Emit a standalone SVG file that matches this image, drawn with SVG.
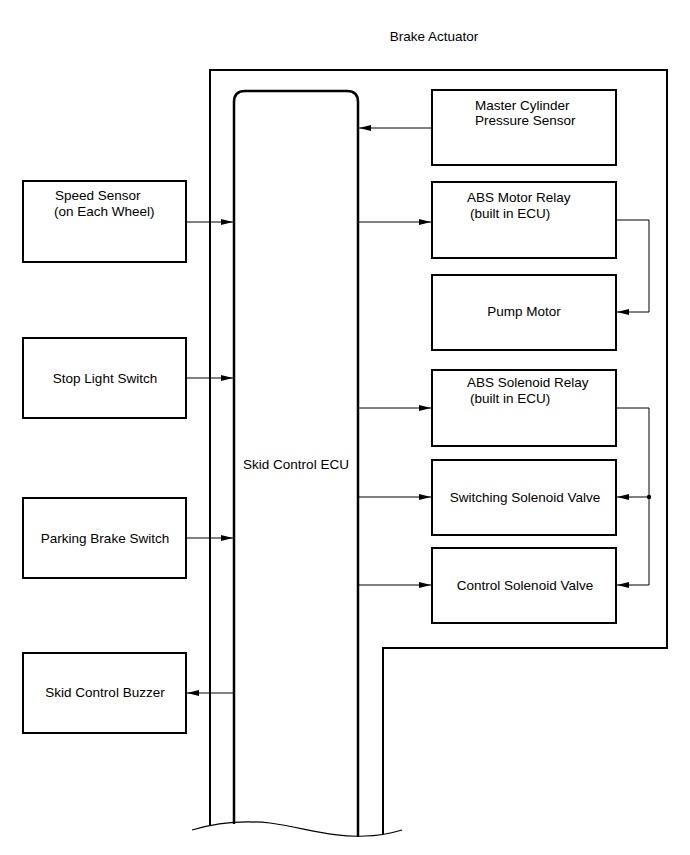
<svg xmlns="http://www.w3.org/2000/svg" width="690" height="855" viewBox="0 0 690 855">
<style>
.box{fill:#fff;stroke:#000;stroke-width:2}
.ln{fill:none;stroke:#000;stroke-width:1}
.t{font-family:"Liberation Sans",Arial,sans-serif;font-size:13.5px;fill:#000}
.c{text-anchor:middle}
</style>
<defs>
<marker id="ah" viewBox="0 0 12 6" refX="12" refY="3" markerWidth="12" markerHeight="6" markerUnits="userSpaceOnUse" orient="auto">
<path d="M0,0 L12,3 L0,6 Z" fill="#000"/>
</marker>
</defs>
<rect width="690" height="855" fill="#fff"/>
<g id="actuator">
<path d="M210,825 V70 H667 V648 H383 V834" fill="none" stroke="#000" stroke-width="2"/>
<text class="t c" x="434" y="41">Brake Actuator</text>
</g>
<g id="ecu">
<path d="M234,824 V102 Q234,91 245,91 H347 Q358,91 358,102 V837" fill="#fff" stroke="#000" stroke-width="2.5"/>
<text class="t c" x="296" y="469">Skid Control ECU</text>
</g>
<g id="wave">
<path d="M192,830 C215,823 240,820 270,823 C305,828 335,838 365,836 C380,836 392,833 402,830" fill="none" stroke="#000" stroke-width="1.2"/>
</g>
<g id="master-cylinder">
<rect class="box" x="432" y="90" width="184" height="75"/>
<text class="t" x="475" y="110">Master Cylinder</text>
<text class="t" x="475" y="125">Pressure Sensor</text>
</g>
<g id="abs-motor-relay">
<rect class="box" x="432" y="182" width="184" height="76"/>
<text class="t" x="467" y="202">ABS Motor Relay</text>
<text class="t" x="470" y="218">(built in ECU)</text>
</g>
<g id="pump-motor">
<rect class="box" x="432" y="275" width="184" height="75"/>
<text class="t c" x="524" y="316">Pump Motor</text>
</g>
<g id="abs-solenoid-relay">
<rect class="box" x="432" y="370" width="184" height="76"/>
<text class="t" x="467" y="387">ABS Solenoid Relay</text>
<text class="t" x="470" y="403">(built in ECU)</text>
</g>
<g id="switching-valve">
<rect class="box" x="432" y="460" width="184" height="75"/>
<text class="t c" x="525" y="502">Switching Solenoid Valve</text>
</g>
<g id="control-valve">
<rect class="box" x="432" y="548" width="184" height="75"/>
<text class="t c" x="525" y="590">Control Solenoid Valve</text>
</g>
<g id="speed-sensor">
<rect class="box" x="23" y="181" width="163" height="81"/>
<text class="t" x="55" y="200">Speed Sensor</text>
<text class="t" x="54" y="216">(on Each Wheel)</text>
</g>
<g id="stop-light">
<rect class="box" x="23" y="338" width="163" height="80"/>
<text class="t c" x="105" y="383">Stop Light Switch</text>
</g>
<g id="parking-brake">
<rect class="box" x="23" y="498" width="163" height="80"/>
<text class="t c" x="105" y="543">Parking Brake Switch</text>
</g>
<g id="buzzer">
<rect class="box" x="23" y="653" width="163" height="80"/>
<text class="t c" x="105" y="697">Skid Control Buzzer</text>
</g>
<g id="connectors">
<line class="ln" x1="432" y1="128" x2="359" y2="128" marker-end="url(#ah)"/>
<line class="ln" x1="358" y1="222" x2="431" y2="222" marker-end="url(#ah)"/>
<polyline class="ln" points="617,220 649,220 649,312 617,312" marker-end="url(#ah)"/>
<line class="ln" x1="358" y1="408" x2="431" y2="408" marker-end="url(#ah)"/>
<polyline class="ln" points="617,408 649,408 649,585 617,585" marker-end="url(#ah)"/>
<line class="ln" x1="649" y1="497" x2="617" y2="497" marker-end="url(#ah)"/>
<circle cx="649" cy="497" r="2.2" fill="#000"/>
<line class="ln" x1="358" y1="497" x2="431" y2="497" marker-end="url(#ah)"/>
<line class="ln" x1="358" y1="585" x2="431" y2="585" marker-end="url(#ah)"/>
<line class="ln" x1="186" y1="222" x2="233" y2="222" marker-end="url(#ah)"/>
<line class="ln" x1="186" y1="378" x2="233" y2="378" marker-end="url(#ah)"/>
<line class="ln" x1="186" y1="538" x2="233" y2="538" marker-end="url(#ah)"/>
<line class="ln" x1="234" y1="693" x2="187" y2="693" marker-end="url(#ah)"/>
</g>
</svg>
